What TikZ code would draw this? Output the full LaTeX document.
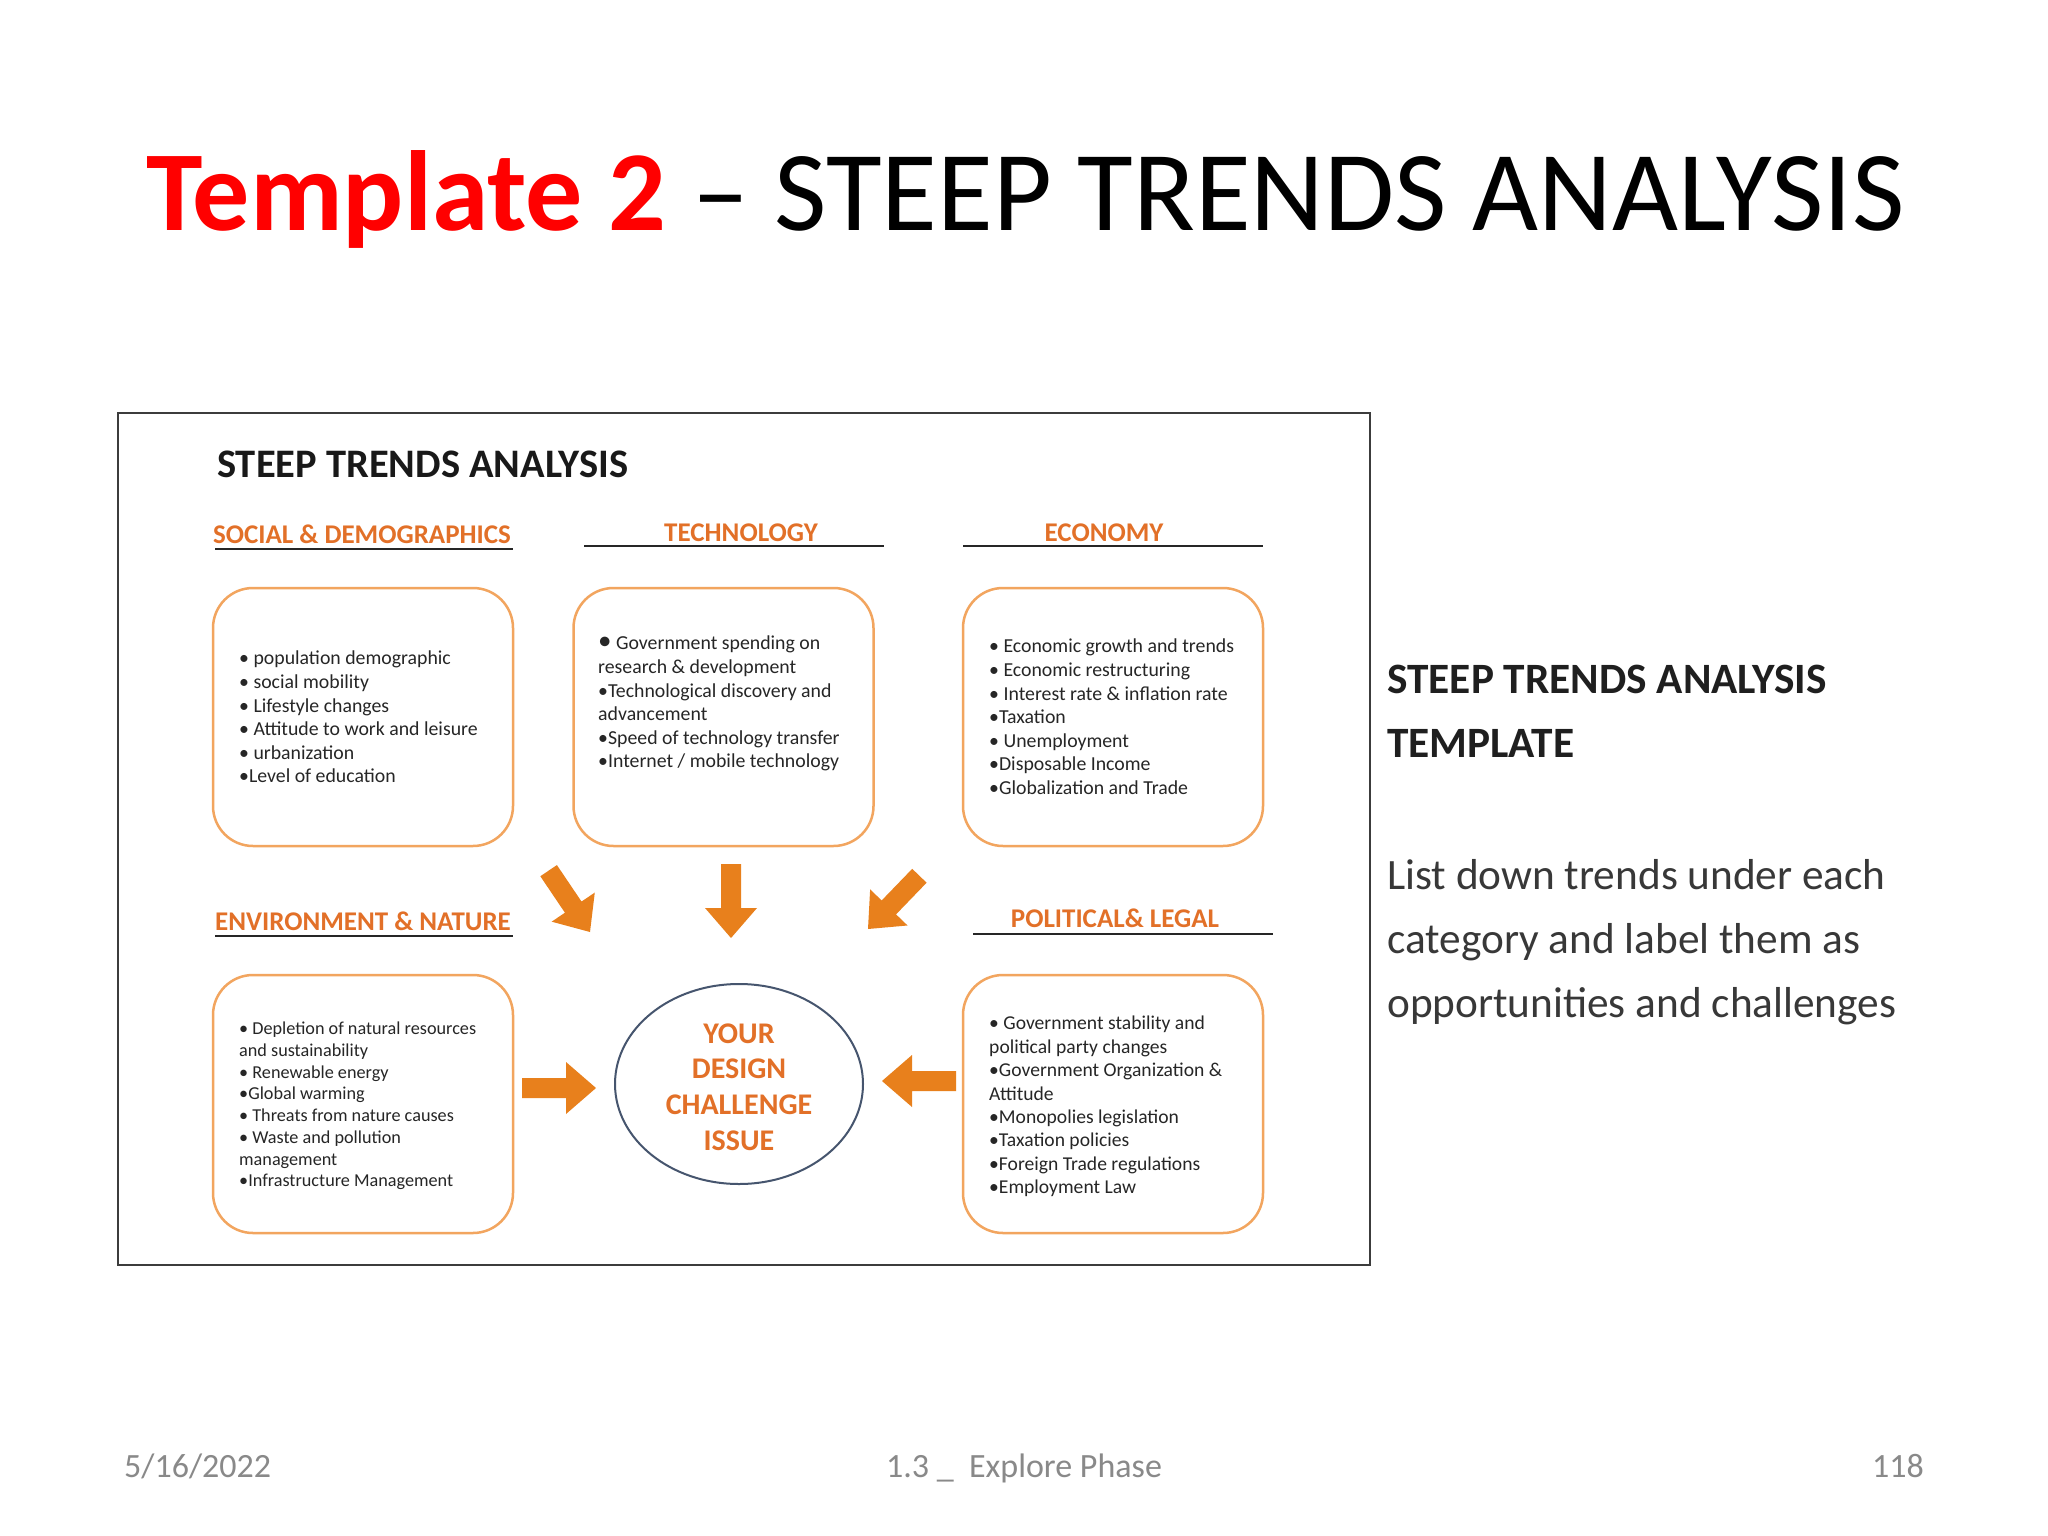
\documentclass[tikz,border=0pt]{standalone}
\usepackage{fontspec}
\setmainfont{Carlito}
\usetikzlibrary{shapes.geometric}
\definecolor{titlered}{RGB}{255,0,0}
\definecolor{hdorange}{RGB}{226,112,40}
\definecolor{arrorange}{RGB}{232,128,28}
\definecolor{boxorange}{RGB}{242,165,95}
\definecolor{txtdark}{RGB}{38,38,38}
\definecolor{circblue}{RGB}{70,85,110}
\definecolor{footgray}{RGB}{137,137,137}
\definecolor{framegray}{RGB}{60,60,60}
\begin{document}
\begin{tikzpicture}[x=1pt,y=-1pt,
  trendbox/.style={draw=boxorange, line width=2.5pt, rounded corners=40pt,
    minimum width=300pt, minimum height=258pt, fill=white, inner sep=0pt},
  boxtext/.style={anchor=north west, inner sep=0pt, align=left, text=txtdark,
    font=\fontsize{19.8}{23.6}\selectfont},
  heading/.style={anchor=base, inner sep=0pt, text=hdorange,
    font=\fontsize{27}{30}\selectfont\bfseries},
  headline/.style={draw=black!85, line width=2.5pt},
  plain/.style={anchor=base west, inner sep=0pt},
  blockarr/.pic={\fill[arrorange] (0,0) -- (-30,26) -- (-30,10) -- (-74,10)
     -- (-74,-10) -- (-30,-10) -- (-30,-26) -- cycle;}
]
\path[use as bounding box, fill=white] (0,0) rectangle (2048,1536);

% slide title
\node[plain, font=\fontsize{114}{120}\selectfont] (title) at (146,230)
  {\textcolor{titlered}{\bfseries Template 2} -- STEEP TRENDS ANALYSIS};

% inner frame
\draw[framegray, line width=2pt] (117.5,413) rectangle (1370,1265);
\node[plain, font=\fontsize{40.5}{44}\selectfont\bfseries, text=black!90] (ititle) at (217,477)
  {STEEP TRENDS ANALYSIS};

% headings
\node[heading] (hsoc) at (362,543) {SOCIAL \& DEMOGRAPHICS};
\node[heading] (htec) at (741,541) {TECHNOLOGY};
\node[heading] (heco) at (1104,541) {ECONOMY};
\node[heading] (henv) at (363,930) {ENVIRONMENT \& NATURE};
\node[heading] (hpol) at (1115,927) {POLITICAL\& LEGAL};
\draw[headline] (215,549) -- (513,549);
\draw[headline] (584,546) -- (884,546);
\draw[headline] (963,546) -- (1263,546);
\draw[headline] (215,936) -- (513,936);
\draw[headline] (973,934) -- (1273,934);

% boxes
\node[trendbox] (soc) at (363,717) {};
\node[trendbox] (tec) at (723.5,717) {};
\node[trendbox] (eco) at (1113,717) {};
\node[trendbox] (env) at (363,1104) {};
\node[trendbox] (pol) at (1113,1104) {};

\node[boxtext] (tsoc) at (239,651) {• population demographic\\• social mobility\\• Lifestyle changes\\• Attitude to work and leisure\\• urbanization\\•Level of education};
\node[boxtext] (ttec) at (598,636) {{\fontsize{27}{23.6}\selectfont•} Government spending on\\research \& development\\•Technological discovery and\\advancement\\•Speed of technology transfer\\•Internet / mobile technology};
\node[boxtext] (teco) at (989,639) {• Economic growth and trends\\• Economic restructuring\\• Interest rate \& inflation rate\\•Taxation\\• Unemployment\\•Disposable Income\\•Globalization and Trade};
\node[boxtext, font=\fontsize{18.2}{21.7}\selectfont] (tenv) at (239,1022) {• Depletion of natural resources\\and sustainability\\• Renewable energy\\•Global warming\\• Threats from nature causes\\• Waste and pollution\\management\\•Infrastructure Management};
\node[boxtext, font=\fontsize{19.6}{23.4}\selectfont] (tpol) at (989,1016) {• Government stability and\\political party changes\\•Government Organization \&\\Attitude\\•Monopolies legislation\\•Taxation policies\\•Foreign Trade regulations\\•Employment Law};

% central issue
\node[draw=circblue, line width=2pt, ellipse, minimum width=248pt, minimum height=200pt, inner sep=0pt] (issue) at (739,1084) {};
\node[align=center, inner sep=0pt, text=hdorange, font=\fontsize{30}{35.7}\selectfont\bfseries] (issuetext) at (739,1087) {YOUR\\DESIGN\\CHALLENGE\\ISSUE};

% block arrows (tip at the coordinate)
\coordinate (a1) at (590,932);
\coordinate (a2) at (731,938);
\coordinate (a3) at (868,929);
\coordinate (a4) at (596,1088);
\coordinate (a5) at (882,1081);
\pic[rotate=-56] at (a1) {blockarr};
\pic[rotate=-90] at (a2) {blockarr};
\pic[rotate=-134] at (a3) {blockarr};
\pic at (a4) {blockarr};
\pic[rotate=180] at (a5) {blockarr};

% right-hand text
\node[plain, font=\fontsize{43.3}{46}\selectfont\bfseries, text=black!88] (rt1) at (1387,693) {STEEP TRENDS ANALYSIS};
\node[plain, font=\fontsize{43.3}{46}\selectfont\bfseries, text=black!88] (rt2) at (1387,757) {TEMPLATE};
\node[plain, font=\fontsize{43.3}{46}\selectfont, text=black!78] (rt3) at (1387,889) {List down trends under each};
\node[plain, font=\fontsize{43.3}{46}\selectfont, text=black!78] (rt4) at (1387,953) {category and label them as};
\node[plain, font=\fontsize{43.3}{46}\selectfont, text=black!78] (rt5) at (1387,1017) {opportunities and challenges};

% footer
\node[plain, font=\fontsize{34}{38}\selectfont, text=footgray] (fdate) at (124,1477) {5/16/2022};
\node[anchor=base, inner sep=0pt, font=\fontsize{34}{38}\selectfont, text=footgray] (fmid) at (1024,1477) {1.3 \_ \ Explore Phase};
\node[anchor=base east, inner sep=0pt, font=\fontsize{34}{38}\selectfont, text=footgray] (fnum) at (1924,1477) {118};
\end{tikzpicture}
\end{document}
